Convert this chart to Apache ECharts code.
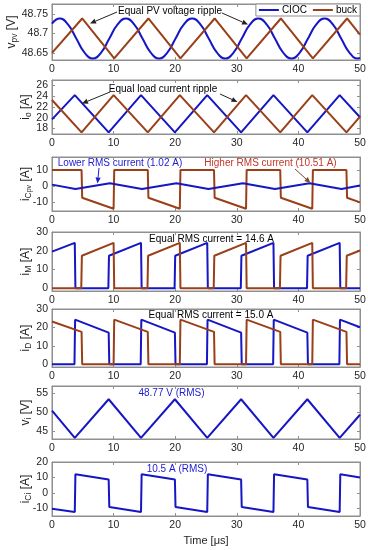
<!DOCTYPE html>
<html><head><meta charset="utf-8">
<script src="https://cdn.jsdelivr.net/npm/echarts@6/dist/echarts.min.js"></script>
<style>html,body{margin:0;padding:0;background:#fff}#c{width:368px;height:550px}</style>
</head><body><div id="c"></div>
<script>
// ---------- data (time in µs) ----------
const timeTicks = [0, 10, 20, 30, 40, 50];

// v_pv [V]
const vpvCioc = [[0,48.725],[1.25,48.738],[2.59,48.723],[3.94,48.687],[5.28,48.651],[6.63,48.636],[7.97,48.651],[9.31,48.687],[10.66,48.723],[12.0,48.738],[13.34,48.723],[14.69,48.687],[16.03,48.651],[17.38,48.636],[18.72,48.651],[20.06,48.687],[21.41,48.723],[22.75,48.738],[24.09,48.723],[25.44,48.687],[26.78,48.651],[28.13,48.636],[29.47,48.651],[30.81,48.687],[32.16,48.723],[33.5,48.738],[34.84,48.723],[36.19,48.687],[37.53,48.651],[38.88,48.636],[40.22,48.651],[41.56,48.687],[42.91,48.723],[44.25,48.738],[45.59,48.723],[46.94,48.687],[48.28,48.651],[49.63,48.636],[50,48.637]];
const vpvBuck = [[0,48.650],[4.9,48.738],[10.1,48.636],[15.65,48.738],[20.85,48.636],[26.4,48.738],[31.6,48.636],[37.15,48.738],[42.35,48.636],[47.9,48.738],[50,48.697]];
const vpvTicks = [48.65, 48.7, 48.75];

// i_o [A]
const ioCioc = [[0,19.7],[3.7,24.2],[9.2,17.3],[14.45,24.2],[19.95,17.3],[25.2,24.2],[30.7,17.3],[35.95,24.2],[41.45,17.3],[46.7,24.2],[50,20.1]];
const ioBuck = [[0,23.3],[4.8,17.3],[10.0,24.2],[15.55,17.3],[20.75,24.2],[26.3,17.3],[31.5,24.2],[37.05,17.3],[42.25,24.2],[47.8,17.3],[50,20.2]];
const ioTicks = [18, 20, 22, 24, 26];

// i_Cpv [A]
const icpvCioc = [[0,0.9],[3.8,-1.8],[9.4,1.8],[14.6,-1.8],[20.2,1.8],[25.4,-1.8],[31.0,1.8],[36.2,-1.8],[41.8,1.8],[47.0,-1.8],[50,0.4]];
const icpvBuck = [[0,10],[4.8,10],[4.9,-7.3],[10.0,-14.2],[10.1,10],[15.55,10],[15.65,-7.3],[20.75,-14.2],[20.85,10],[26.3,10],[26.4,-7.3],[31.5,-14.2],[31.6,10],[37.05,10],[37.15,-7.3],[42.25,-14.2],[42.35,10],[47.8,10],[47.9,-7.3],[50,-10.2]];
const icpvTicks = [-10, 0, 10];

// i_M [A]
const imCioc = [[0,19.5],[3.7,24.2],[3.8,0],[9.15,0],[9.25,17.3],[14.45,24.2],[14.55,0],[19.9,0],[20.0,17.3],[25.2,24.2],[25.3,0],[30.65,0],[30.75,17.3],[35.95,24.2],[36.05,0],[41.4,0],[41.5,17.3],[46.7,24.2],[46.8,0],[50,0]];
const imBuck = [[0,0],[4.75,0],[4.85,17.3],[10.0,24.2],[10.1,0],[15.5,0],[15.6,17.3],[20.75,24.2],[20.85,0],[26.25,0],[26.35,17.3],[31.5,24.2],[31.6,0],[37.0,0],[37.1,17.3],[42.25,24.2],[42.35,0],[47.75,0],[47.85,17.3],[50,20.1]];
const imTicks = [0, 10, 20, 30];

// i_D [A]
const idCioc = [[0,0],[3.65,0],[3.75,24.2],[9.2,17.2],[9.3,0],[14.4,0],[14.5,24.2],[19.95,17.2],[20.05,0],[25.15,0],[25.25,24.2],[30.7,17.2],[30.8,0],[35.9,0],[36.0,24.2],[41.45,17.2],[41.55,0],[46.65,0],[46.75,24.2],[50,20.1]];
const idBuck = [[0,23.2],[4.8,17.6],[4.9,0],[10.0,0],[10.1,24.2],[15.55,17.6],[15.65,0],[20.75,0],[20.85,24.2],[26.3,17.6],[26.4,0],[31.5,0],[31.6,24.2],[37.05,17.6],[37.15,0],[42.25,0],[42.35,24.2],[47.8,17.6],[47.9,0],[50,0]];
const idTicks = [0, 10, 20, 30];

// v_i [V]
const viCioc = [[0,50.5],[3.7,43.3],[9.2,53.5],[14.45,43.3],[19.95,53.5],[25.2,43.3],[30.7,53.5],[35.95,43.3],[41.45,53.5],[46.7,43.3],[50,49.4]];
const viTicks = [45, 50, 55];

// i_Ci [A]
const iciCioc = [[0,-10.3],[3.7,-12.4],[3.8,12.1],[9.2,8.6],[9.3,-9.2],[14.45,-12.4],[14.55,12.1],[19.95,8.6],[20.05,-9.2],[25.2,-12.4],[25.3,12.1],[30.7,8.6],[30.8,-9.2],[35.95,-12.4],[36.05,12.1],[41.45,8.6],[41.55,-9.2],[46.7,-12.4],[46.8,12.1],[50,10.0]];
const iciTicks = [-10, 0, 10, 20];

// ---------- styling ----------
const BLUE = '#1616c4';
const BROWN = '#9a4019';
const FONT = '"Liberation Sans", Arial, sans-serif';
const AX = '#8f8f8f';
const TXT = '#262626';

const panels = [
  {top:4,   height:56, ymin:48.632, ymax:48.775, ticks:vpvTicks, name:'{m|v}{s|pv}{m| [V]}', gap:33, series:[['CIOC',vpvCioc,BLUE,true],['buck',vpvBuck,BROWN,false]]},
  {top:80,  height:54, ymin:17, ymax:27, ticks:ioTicks, name:'{m|i}{s|o}{m| [A]}', gap:19, series:[['CIOC',ioCioc,BLUE],['buck',ioBuck,BROWN]]},
  {top:157, height:54, ymin:-15.6, ymax:18.2, ticks:icpvTicks, name:'{m|i}{s|C}{ss|pv}{m| [A]}', gap:19, series:[['buck',icpvBuck,BROWN],['CIOC',icpvCioc,BLUE]]},
  {top:232, height:59, ymin:-1.5, ymax:30, ticks:imTicks, name:'{m|i}{s|M}{m| [A]}', gap:19, series:[['CIOC',imCioc,BLUE],['buck',imBuck,BROWN]]},
  {top:309, height:58, ymin:-1.5, ymax:30, ticks:idTicks, name:'{m|i}{s|D}{m| [A]}', gap:19, series:[['CIOC',idCioc,BLUE],['buck',idBuck,BROWN]]},
  {top:386, height:53, ymin:43, ymax:57, ticks:viTicks, name:'{m|v}{s|i}{m| [V]}', gap:19, series:[['CIOC',viCioc,BLUE]]},
  {top:462, height:54, ymin:-15, ymax:20, ticks:iciTicks, name:'{m|i}{s|Ci}{m| [A]}', gap:19, series:[['CIOC',iciCioc,BLUE]]}
];

const rich = {
  m: {fontSize:12, fontFamily:FONT, color:TXT, lineHeight:13, verticalAlign:'top'},
  s: {fontSize:8.5, fontFamily:FONT, color:TXT, lineHeight:9, padding:[5,0,0,0], verticalAlign:'bottom'},
  ss:{fontSize:7, fontFamily:FONT, color:TXT, lineHeight:8, padding:[9,0,0,0], verticalAlign:'bottom'}
};

const grids = [], xAxes = [], yAxes = [], series = [];
const yLabel = vals => ({fontSize:10.5, fontFamily:FONT, color:TXT, margin:4, customValues:vals,
  hideOverlap:false, showMinLabel:true, showMaxLabel:true,
  formatter: v => String(+(+v).toFixed(3))});
panels.forEach((p, i) => {
  grids.push({left:52, right:8, top:p.top, height:p.height, show:true, borderColor:AX, borderWidth:1,
    backgroundColor:'#fff', containLabel:false, outerBoundsMode:'none'});
  const xBase = {gridIndex:i, type:'value', min:0, max:50, interval:10,
    axisLine:{onZero:false, lineStyle:{color:AX, width:1}}, axisTick:{inside:true, length:3, lineStyle:{color:AX}},
    splitLine:{show:false}};
  xAxes.push(Object.assign({}, xBase, {position:'bottom',
    axisLabel:{fontSize:10.5, fontFamily:FONT, color:TXT, margin:4, hideOverlap:false,
      showMinLabel:true, showMaxLabel:true, customValues: timeTicks},
    name: i === 6 ? 'Time [\u03bcs]' : '', nameLocation:'middle', nameGap:19, nameMoveOverlap:false,
    nameTextStyle:{fontSize:11, fontFamily:FONT, color:TXT}}));
  xAxes.push(Object.assign({}, xBase, {position:'top', axisLabel:{show:false}}));
  const yBase = {gridIndex:i, type:'value', min:p.ymin, max:p.ymax,
    axisLine:{show:true, onZero:false, lineStyle:{color:AX, width:1}},
    axisTick:{show:true, inside:true, length:3, lineStyle:{color:AX}, customValues:p.ticks},
    splitLine:{show:false}};
  // tick labels split over two overlaid left axes so none is auto-thinned
  const evenT = p.ticks.filter((v, k) => k % 2 === 0);
  const oddT = p.ticks.filter((v, k) => k % 2 === 1);
  yAxes.push(Object.assign({}, yBase, {position:'left', axisLabel:yLabel(evenT),
    name:p.name, nameLocation:'middle', nameGap:p.gap, nameRotate:90, nameMoveOverlap:false,
    nameTextStyle:{rich:rich}}));
  yAxes.push(Object.assign({}, yBase, {position:'right', axisLabel:{show:false}}));
  yAxes.push({gridIndex:i, type:'value', min:p.ymin, max:p.ymax, position:'left',
    axisLine:{show:false, onZero:false}, axisTick:{show:false}, splitLine:{show:false},
    axisLabel: Object.assign(yLabel(oddT), {show: oddT.length > 0})});
  p.series.forEach(s => {
    series.push({type:'line', name:s[0], data:s[1], xAxisIndex:2*i, yAxisIndex:3*i,
      showSymbol:false, symbol:'none', smooth: s[3] ? 0.5 : false, clip:true,
      lineStyle:{color:s[2], width:2}, itemStyle:{color:s[2]}, animation:false});
  });
});

function arrow(x1, y1, x2, y2, color) {
  const a = Math.atan2(y2 - y1, x2 - x1), L = 6, W = 2.6;
  const bx = x2 - L * Math.cos(a), by = y2 - L * Math.sin(a);
  const px = -Math.sin(a) * W, py = Math.cos(a) * W;
  return [
    {type:'line', shape:{x1:x1, y1:y1, x2:bx, y2:by}, style:{stroke:color, lineWidth:1}, z:100},
    {type:'polygon', shape:{points:[[x2,y2],[bx+px,by+py],[bx-px,by-py]]}, style:{fill:color}, z:100}
  ];
}
function label(x, y, text, color) {
  return {type:'text', x:x, y:y, z:100,
    style:{text:text, fill:color, fontSize:10, fontFamily:FONT, align:'center', verticalAlign:'middle',
      textAlign:'center', textVerticalAlign:'middle'}};
}

const graphics = [].concat(
  [label(170, 11.5, 'Equal PV voltage ripple', '#000')],
  arrow(117, 12, 90, 23.5, '#222'),
  arrow(222, 13, 248, 24.5, '#222'),
  [label(163, 89, 'Equal load current ripple', '#000')],
  arrow(110, 92, 82, 103.5, '#222'),
  arrow(220, 94, 237.5, 102, '#222'),
  [label(120, 163.5, 'Lower RMS current (1.02 A)', '#1c1cd0')],
  arrow(99, 168, 97.5, 183.5, '#1c1cd0'),
  [label(270.5, 163.5, 'Higher RMS current (10.51 A)', '#c0382a')],
  arrow(295, 169, 310.5, 183, '#7a4a2a'),
  [label(211.5, 239, 'Equal RMS current = 14.6 A', '#000')],
  [label(211, 315.5, 'Equal RMS current = 15.0 A', '#000')],
  [label(171.5, 393.5, '48.77 V (RMS)', '#1c1cd0')],
  [label(177, 469, '10.5 A (RMS)', '#1c1cd0')]
);

const chart = echarts.init(document.getElementById('c'), null, {renderer:'canvas'});
chart.setOption({
  animation:false,
  backgroundColor:'#fff',
  grid:grids, xAxis:xAxes, yAxis:yAxes, series:series,
  legend:{data:['CIOC','buck'], right:8, top:4, orient:'horizontal',
    backgroundColor:'#fff', borderColor:AX, borderWidth:1, borderRadius:0,
    padding:[1,3,1,3], itemGap:6, itemWidth:20, itemHeight:2, icon:'rect',
    textStyle:{fontSize:10, fontFamily:FONT, color:'#000', padding:[0,0,0,-2]}},
  graphic:{elements:graphics}
});
</script>
</body></html>
